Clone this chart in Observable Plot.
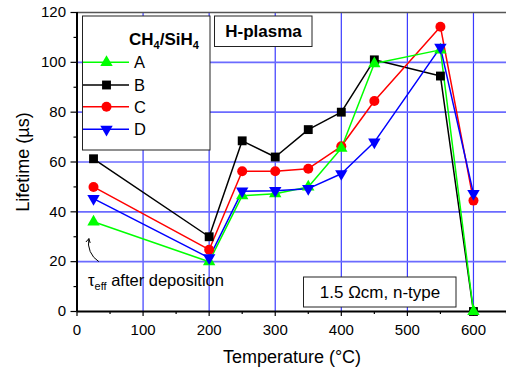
<!DOCTYPE html>
<html><head><meta charset="utf-8">
<script src="https://cdn.jsdelivr.net/npm/d3@7"></script>
<script src="https://cdn.jsdelivr.net/npm/@observablehq/plot@0.6"></script>
<style>body{margin:0;background:#fff} svg{display:block}</style>
</head><body><div id="chart"></div>
<script>
// ---- data ----
const temps = [25, 200, 250, 300, 350, 400, 450, 550, 600];
const seriesA = [36, 20, 46.5, 47.3, 50, 65.5, 99.5, 105, 0];
const seriesB = [61.3, 30, 68.5, 62, 73, 80, 101, 94.5, 0];
const seriesC = [50, 24.8, 56.3, 56.3, 57.3, 66.3, 84.5, 114.3, 44.5];
const seriesD = [45.3, 21.5, 48.3, 48.5, 49.3, 55.3, 68, 106, 47.3];
const seriesNames = ["A", "B", "C", "D"];
const seriesValues = [seriesA, seriesB, seriesC, seriesD];
const xTicks = [0, 100, 200, 300, 400, 500, 600];
const xMinorTicks = [50, 150, 250, 350, 450, 550, 650];
const yTicks = [0, 20, 40, 60, 80, 100, 120];
const yMinorTicks = [10, 30, 50, 70, 90, 110];
const gridXTicks = [100, 200, 300, 400, 500, 600];
const gridYTicks = [20, 40, 60, 80, 100];

// ---- styles ----
const colors = {A: "#00ff00", B: "#000000", C: "#ff0000", D: "#0000ff"};
const symbols = {A: "triangle", B: "square", C: "circle", D: "triangle"};
const rotations = {A: 0, B: 0, C: 0, D: 180};
const drawOrder = ["B", "C", "A", "D"];
const FONT = "'Liberation Sans', Arial, sans-serif";

const rows = [];
seriesNames.forEach((s, i) => temps.forEach((t, j) => rows.push({series: s, t, v: seriesValues[i][j]})));

const marks = [
  Plot.gridX(gridXTicks, {stroke: "#3a3aff", strokeOpacity: 1, strokeWidth: 1.2}),
  Plot.gridY(gridYTicks, {stroke: "#6b6bff", strokeOpacity: 1, strokeWidth: 1.6}),
  Plot.ruleY([120], {stroke: "#555", strokeWidth: 1.5}),
  Plot.axisX(xMinorTicks, {tickSize: 3, tickFormat: () => "", label: null, stroke: "#000", strokeWidth: 1.2}),
  Plot.axisX(xTicks, {tickSize: 5, tickPadding: 8, fontSize: 15, label: null, stroke: "#000", strokeWidth: 1.2, fill: "#000"}),
  Plot.axisY(yMinorTicks, {tickSize: 3, tickFormat: () => "", label: null, stroke: "#000", strokeWidth: 1.2}),
  Plot.axisY(yTicks, {tickSize: 6, tickPadding: 5, fontSize: 15, label: null, stroke: "#000", strokeWidth: 1.2, fill: "#000"}),
  Plot.ruleX([0], {stroke: "#000", strokeWidth: 2}),
  Plot.ruleY([0], {stroke: "#000", strokeWidth: 2}),
  Plot.arrow([{x1: 32.5, y1: 20.1, x2: 17.9, y2: 29.2}], {x1: "x1", y1: "y1", x2: "x2", y2: "y2", bend: 35, stroke: "#000", strokeWidth: 1, headLength: 6})
];
for (const s of drawOrder) {
  const d = rows.filter(r => r.series === s);
  marks.push(Plot.line(d, {x: "t", y: "v", stroke: colors[s], strokeWidth: 1.5}));
}
for (const s of drawOrder) {
  const d = rows.filter(r => r.series === s);
  marks.push(Plot.dot(d, {x: "t", y: "v", symbol: () => symbols[s], fill: colors[s], stroke: "none", r: s === "C" ? 5 : (s === "B" ? 5 : 4.6), rotate: rotations[s]}));
}

const plot = Plot.plot({
  width: 506, height: 371,
  marginLeft: 76.5, marginRight: 0, marginTop: 12, marginBottom: 60,
  style: {fontFamily: FONT, color: "#000", background: "#fff"},
  x: {domain: [0, 650]},
  y: {domain: [0, 120]},
  symbol: {type: "identity"},
  marks
});
document.getElementById("chart").appendChild(plot);

// ---- annotations ----
const svg = d3.select(plot);
const g = svg.append("g").attr("font-family", FONT).attr("fill", "#000").attr("text-anchor", "start");

// legend box
g.append("rect").attr("x", 82.5).attr("y", 16).attr("width", 127.5).attr("height", 134)
  .attr("fill", "#fff").attr("stroke", "#222").attr("stroke-width", 1);
const title = g.append("text").attr("x", 129).attr("y", 45).attr("font-size", 17).attr("font-weight", "bold");
title.append("tspan").text("CH");
title.append("tspan").attr("font-size", 11).attr("dy", 4).text("4");
title.append("tspan").attr("dy", -4).text("/SiH");
title.append("tspan").attr("font-size", 11).attr("dy", 4).text("4");
const legendY = [62.3, 85, 106.7, 129.3];
seriesNames.forEach((s, i) => {
  const y = legendY[i];
  g.append("line").attr("x1", 83).attr("x2", 129).attr("y1", y).attr("y2", y)
    .attr("stroke", colors[s]).attr("stroke-width", 1.5);
  const sym = {triangle: d3.symbolTriangle, square: d3.symbolSquare, circle: d3.symbolCircle}[symbols[s]];
  const r = s === "C" || s === "B" ? 5 : 4.6;
  g.append("path").attr("d", d3.symbol(sym, Math.PI * r * r)())
    .attr("transform", `translate(106.5,${y}) rotate(${rotations[s]})`).attr("fill", colors[s]);
  g.append("text").attr("x", 134).attr("y", y + 6).attr("font-size", 16.5).text(s);
});

// H-plasma box
g.append("rect").attr("x", 214.5).attr("y", 16).attr("width", 97.5).attr("height", 30.5)
  .attr("fill", "#fff").attr("stroke", "#222").attr("stroke-width", 1);
g.append("text").attr("x", 263.5).attr("y", 37).attr("text-anchor", "middle")
  .attr("font-size", 17).attr("font-weight", "bold").text("H-plasma");

// resistivity box
g.append("rect").attr("x", 303.5).attr("y", 277).attr("width", 152.5).attr("height", 30)
  .attr("fill", "#fff").attr("stroke", "#222").attr("stroke-width", 1);
g.append("text").attr("x", 380).attr("y", 297.5).attr("text-anchor", "middle")
  .attr("font-size", 17).text("1.5 Ωcm, n-type");

// tau annotation
const tau = g.append("text").attr("x", 88).attr("y", 286).attr("font-size", 16.5);
tau.append("tspan").text("τ");
tau.append("tspan").attr("font-size", 11).attr("dy", 4).text("eff");
tau.append("tspan").attr("dy", -4).text(" after deposition");

// axis titles
g.append("text").attr("x", 292).attr("y", 363).attr("text-anchor", "middle")
  .attr("font-size", 18).text("Temperature (°C)");
g.append("text").attr("transform", "translate(29,162) rotate(-90)").attr("text-anchor", "middle")
  .attr("font-size", 18).text("Lifetime (µs)");
</script></body></html>
